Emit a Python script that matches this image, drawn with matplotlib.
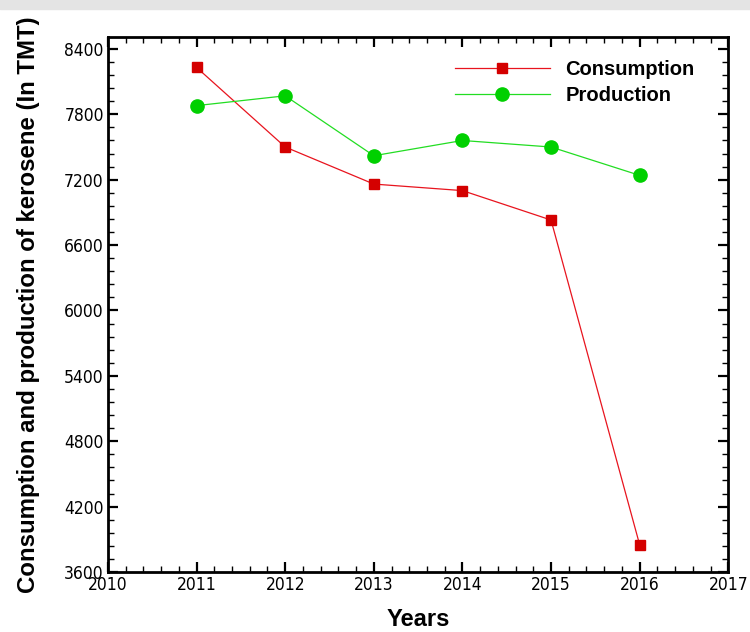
import matplotlib
matplotlib.use("Agg")
import matplotlib.pyplot as plt
from matplotlib.ticker import MultipleLocator, AutoMinorLocator
from matplotlib.patches import Rectangle
from matplotlib import font_manager

years = [2011, 2012, 2013, 2014, 2015, 2016]
consumption = [8230, 7500, 7160, 7100, 6830, 3850]
production = [7880, 7970, 7420, 7560, 7500, 7240]

names = {f.name for f in font_manager.fontManager.ttflist}
label_font = "Liberation Sans" if "Liberation Sans" in names else "DejaVu Sans"

fig = plt.figure(figsize=(7.5, 6.32), dpi=100)
fig.patches.append(Rectangle((0, 0.985), 1, 0.015, transform=fig.transFigure,
                             color="#e4e4e4", zorder=0))
ax = fig.add_axes([0.144, 0.095, 0.827, 0.8465])

ax.plot(years, consumption, color="#e8141e", lw=0.9, marker="s", ms=7,
        mfc="#d40000", mec="#d40000", label="Consumption")
ax.plot(years, production, color="#22dd22", lw=0.9, marker="o", ms=9.5,
        mfc="#00d000", mec="#00d000", label="Production")

ax.set_xlim(2010, 2017)
ax.set_ylim(3600, 8510)
ax.xaxis.set_major_locator(MultipleLocator(1))
ax.xaxis.set_minor_locator(AutoMinorLocator(5))
ax.yaxis.set_major_locator(MultipleLocator(600))
ax.yaxis.set_minor_locator(AutoMinorLocator(5))
ax.tick_params(which="both", direction="in", top=True, right=True)
ax.tick_params(which="major", length=7, width=1.6, labelsize=12.5, pad=3)
ax.tick_params(which="minor", length=4, width=1.0)
for lab in ax.get_xticklabels() + ax.get_yticklabels():
    lab.set_fontfamily("DejaVu Sans")
    lab.set_fontstretch("condensed")
for s in ax.spines.values():
    s.set_linewidth(2.0)

ax.set_xlabel("Years", fontsize=17, fontweight="bold", family=label_font, labelpad=10)
ax.set_ylabel("Consumption and production of kerosene (In TMT)", fontsize=17.3,
              fontweight="bold", family=label_font, labelpad=17)

leg = ax.legend(loc="upper left", bbox_to_anchor=(0.53, 0.99), frameon=False,
                prop={"family": label_font, "weight": "bold", "size": 14.5},
                handlelength=4.7, handletextpad=0.8, labelspacing=0.35)

fig.savefig("out.png", dpi=100)
